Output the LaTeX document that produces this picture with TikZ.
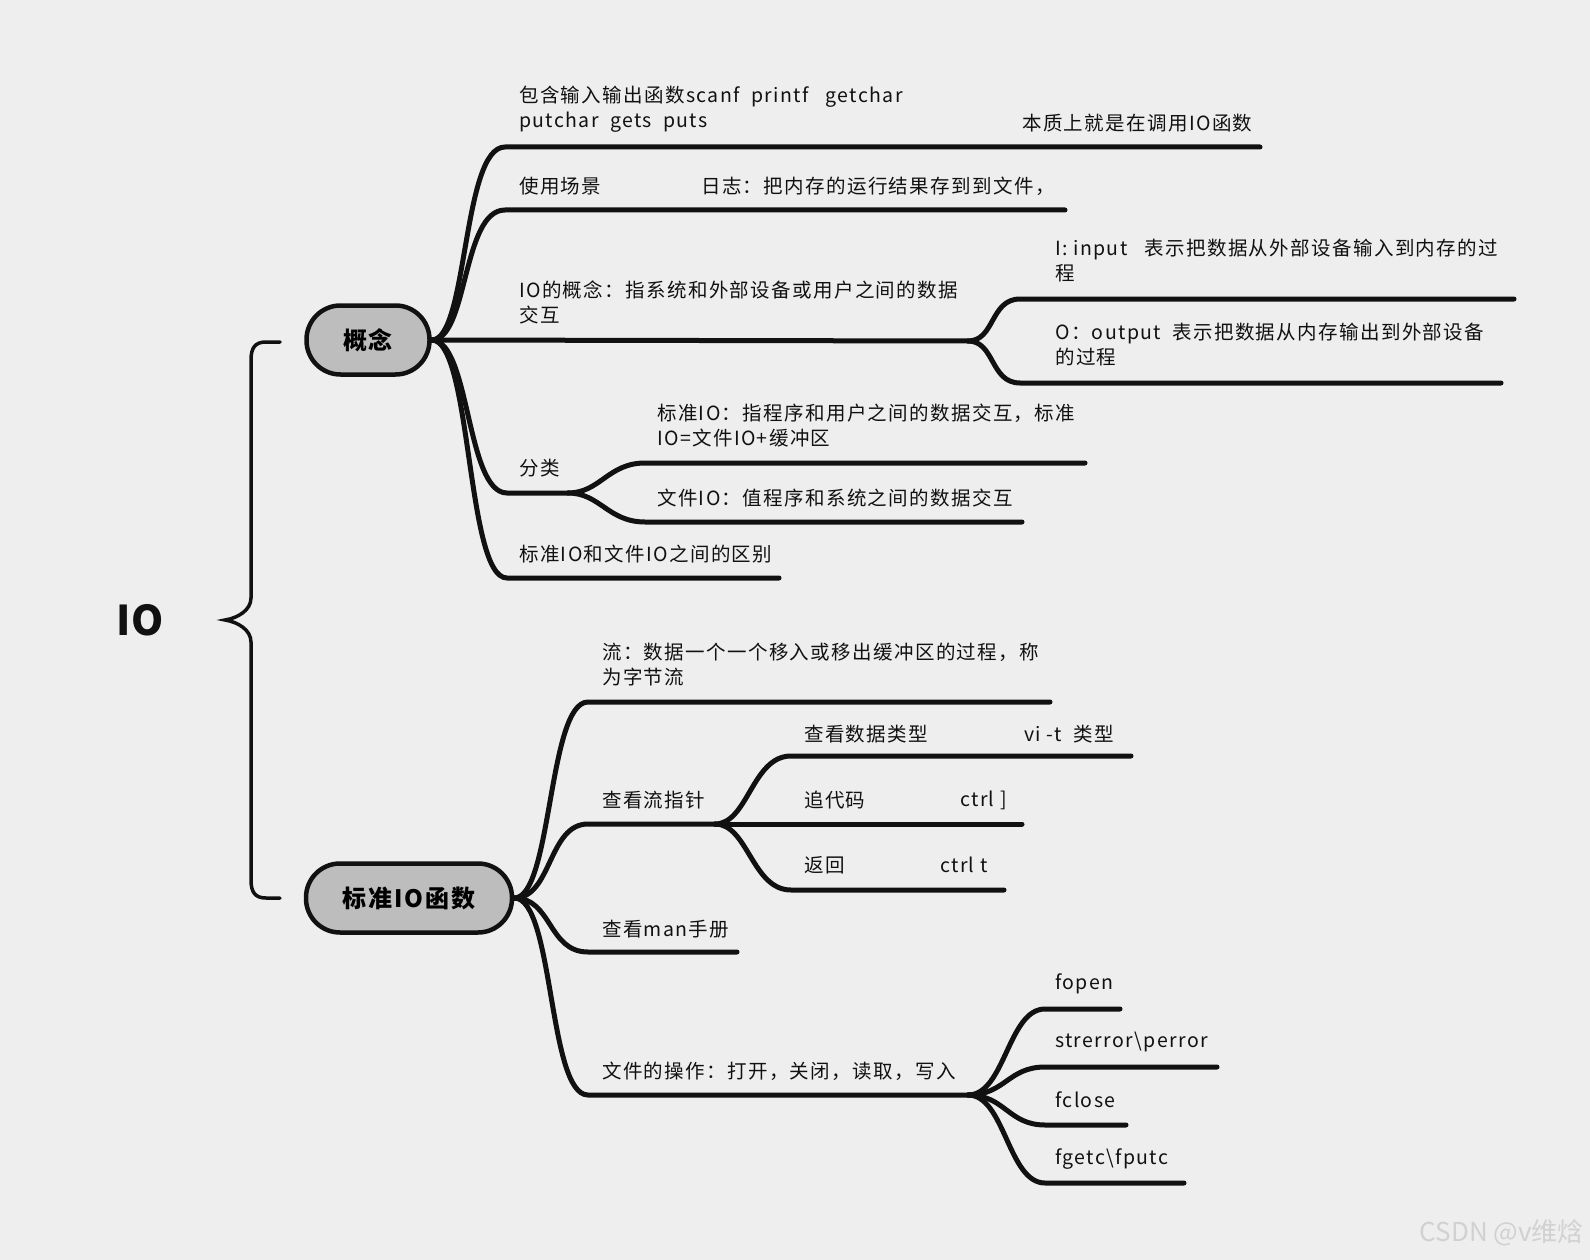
\documentclass[tikz,border=0pt]{standalone}
\usepackage{fontspec}
\setmainfont{Noto Sans CJK SC}
\definecolor{bgcol}{HTML}{EEEEEE}
\definecolor{topicfill}{HTML}{BDBDBD}
\definecolor{ink}{HTML}{111111}
\begin{document}
\begin{tikzpicture}[x=1pt, y=-1pt,
        topic/.style={draw=ink, line width=4.5pt, fill=topicfill, rounded corners=34pt,
            minimum height=69pt, inner sep=0, font=\fontsize{24}{28}\selectfont\bfseries\addfontfeatures{LetterSpace=8}},
        leaf/.style={anchor=west, align=left, inner sep=0, text=ink,
            font=\fontsize{19.5}{25}\selectfont\addfontfeatures{LetterSpace=7}},
        branch/.style={draw=ink, line width=5pt, line cap=round},
        brace/.style={draw=ink, line width=3.5pt, line cap=round}
    ]
    \fill[bgcol] (0,0) rectangle (1590,1260);
    \useasboundingbox (0,0) rectangle (1590,1260);

    % --- root and brace ---
    \node[inner sep=0, text=ink, font=\fontsize{41}{41}\selectfont\bfseries] (io) at (140,620) {IO};
    \coordinate (bt) at (280,342);
    \coordinate (bm) at (225,620);
    \coordinate (bb) at (280,898);
    \draw[brace] (bt) -- (266,342) .. controls (255,342) and (251,348) .. (251,360)
        -- (251,598) .. controls (251,610) and (238,618) .. (bm)
        .. controls (238,622) and (251,630) .. (251,642)
        -- (251,880) .. controls (251,892) and (255,898) .. (266,898) -- (bb);

    % --- topics ---
    \node[topic, minimum width=123pt] (gn) at (368,340) {概念};
    \node[topic, minimum width=206pt] (bz) at (409,898) {标准IO函数};

    % --- (1) 概念 ---
    \coordinate (a1) at (505,147);  \coordinate (a1e) at (931,147);
    \coordinate (a1c) at (1011,147); \coordinate (a1ce) at (1260,147);
    \draw[branch] (gn.east) .. controls (468,340) and (462,147) .. (a1) -- (a1e) -- (a1c) -- (a1ce);
    \node[leaf] (t1) at (519,109.5) {包含输入输出函数scanf\ \ printf\ \ \ getchar\\putchar\ \ gets\ \ puts};
    \node[leaf] (t1c) at (1022,123) {本质上就是在调用IO函数};

    \coordinate (a2) at (505,210);  \coordinate (a2e) at (611,210);
    \coordinate (a2c) at (689,210); \coordinate (a2ce) at (1065,210);
    \draw[branch] (gn.east) .. controls (468,340) and (462,210) .. (a2) -- (a2e) -- (a2c) -- (a2ce);
    \node[leaf] (t2) at (519,186) {使用场景};
    \node[leaf] (t2c) at (701,186) {日志：把内存的运行结果存到到文件，};

    \coordinate (a3e) at (968,341);
    \coordinate (a3a) at (1020,299); \coordinate (a3ae) at (1514,299);
    \coordinate (a3b) at (1020,383); \coordinate (a3be) at (1501,383);
    \draw[branch] (gn.east) -- (a3e);
    \draw[branch] (a3e) .. controls (995,341) and (990,299) .. (a3a) -- (a3ae);
    \draw[branch] (a3e) .. controls (995,341) and (990,383) .. (a3b) -- (a3be);
    \node[leaf] (t3) at (519,302) {IO的概念：指系统和外部设备或用户之间的数据\\交互};
    \node[leaf] (t3a) at (1055,260.5) {I: input\ \ \ 表示把数据从外部设备输入到内存的过\\程};
    \node[leaf] (t3b) at (1055,345) {O：output\ \ 表示把数据从内存输出到外部设备\\的过程};

    \coordinate (a4) at (507,493); \coordinate (a4e) at (568,493);
    \coordinate (a4a) at (645,463); \coordinate (a4ae) at (1085,463);
    \coordinate (a4b) at (645,522); \coordinate (a4be) at (1022,522);
    \draw[branch] (gn.east) .. controls (470,340) and (466,493) .. (a4) -- (a4e);
    \draw[branch] (a4e) .. controls (600,493) and (608,463) .. (a4a) -- (a4ae);
    \draw[branch] (a4e) .. controls (600,493) and (608,522) .. (a4b) -- (a4be);
    \node[leaf] (t4) at (519,468) {分类};
    \node[leaf] (t4a) at (657,426) {标准IO：指程序和用户之间的数据交互，标准\\IO=文件IO+缓冲区};
    \node[leaf] (t4b) at (657,498) {文件IO：值程序和系统之间的数据交互};

    \coordinate (a5) at (507,578); \coordinate (a5e) at (779,578);
    \draw[branch] (gn.east) .. controls (472,340) and (466,578) .. (a5) -- (a5e);
    \node[leaf] (t5) at (519,554) {标准IO和文件IO之间的区别};

    % --- (2) 标准IO函数 ---
    \coordinate (b1) at (588,702); \coordinate (b1e) at (1050,702);
    \draw[branch] (bz.east) .. controls (552,898) and (548,702) .. (b1) -- (b1e);
    \node[leaf] (s1) at (602,665) {流：数据一个一个移入或移出缓冲区的过程，称\\为字节流};

    \coordinate (b2) at (588,824); \coordinate (b2e) at (715,824);
    \draw[branch] (bz.east) .. controls (552,898) and (548,824) .. (b2) -- (b2e);
    \node[leaf] (s2) at (602,800) {查看流指针};
    \coordinate (b2a) at (791,756); \coordinate (b2ae) at (935,756);
    \coordinate (b2ac) at (1014,756); \coordinate (b2ace) at (1131,756);
    \coordinate (b2b) at (791,824); \coordinate (b2be) at (873,824);
    \coordinate (b2bc) at (951,824); \coordinate (b2bce) at (1022,824);
    \coordinate (b2c) at (791,890); \coordinate (b2ce) at (853,890);
    \coordinate (b2cc) at (930,890); \coordinate (b2cce) at (1004,890);
    \draw[branch] (b2e) .. controls (748,824) and (752,756) .. (b2a) -- (b2ae) -- (b2ac) -- (b2ace);
    \draw[branch] (b2e) -- (b2b) -- (b2be) -- (b2bc) -- (b2bce);
    \draw[branch] (b2e) .. controls (748,824) and (752,890) .. (b2c) -- (b2ce) -- (b2cc) -- (b2cce);
    \node[leaf] (s2a) at (804,734) {查看数据类型};
    \node[leaf] (s2ac) at (1024,734) {vi -t\ \ 类型};
    \node[leaf] (s2b) at (804,800) {追代码};
    \node[leaf] (s2bc) at (960,800) {ctrl ]};
    \node[leaf] (s2c) at (804,865) {返回};
    \node[leaf] (s2cc) at (940,865) {ctrl t};

    \coordinate (b3) at (588,952); \coordinate (b3e) at (737,952);
    \draw[branch] (bz.east) .. controls (552,898) and (548,952) .. (b3) -- (b3e);
    \node[leaf] (s3) at (602,929) {查看man手册};

    \coordinate (b4) at (588,1095); \coordinate (b4e) at (968,1095);
    \draw[branch] (bz.east) .. controls (554,898) and (548,1095) .. (b4) -- (b4e);
    \node[leaf] (s4) at (602,1071) {文件的操作：打开，关闭，读取，写入};
    \coordinate (b4a) at (1045,1009); \coordinate (b4ae) at (1120,1009);
    \coordinate (b4b) at (1045,1067); \coordinate (b4be) at (1217,1067);
    \coordinate (b4c) at (1045,1125); \coordinate (b4ce) at (1126,1125);
    \coordinate (b4d) at (1045,1183); \coordinate (b4de) at (1184,1183);
    \draw[branch] (b4e) .. controls (1005,1095) and (1008,1009) .. (b4a) -- (b4ae);
    \draw[branch] (b4e) .. controls (1005,1095) and (1008,1067) .. (b4b) -- (b4be);
    \draw[branch] (b4e) .. controls (1005,1095) and (1008,1125) .. (b4c) -- (b4ce);
    \draw[branch] (b4e) .. controls (1005,1095) and (1008,1183) .. (b4d) -- (b4de);
    \node[leaf] (s4a) at (1055,984) {fopen};
    \node[leaf] (s4b) at (1055,1042) {strerror\textbackslash perror};
    \node[leaf] (s4c) at (1055,1100) {fclose};
    \node[leaf] (s4d) at (1055,1159) {fgetc\textbackslash fputc};

    % --- watermark ---
    \node[anchor=east, inner sep=0, text=black!18, font=\fontsize{26}{26}\selectfont] (wm) at (1584,1233) {CSDN @v维焓};
\end{tikzpicture}
\end{document}
